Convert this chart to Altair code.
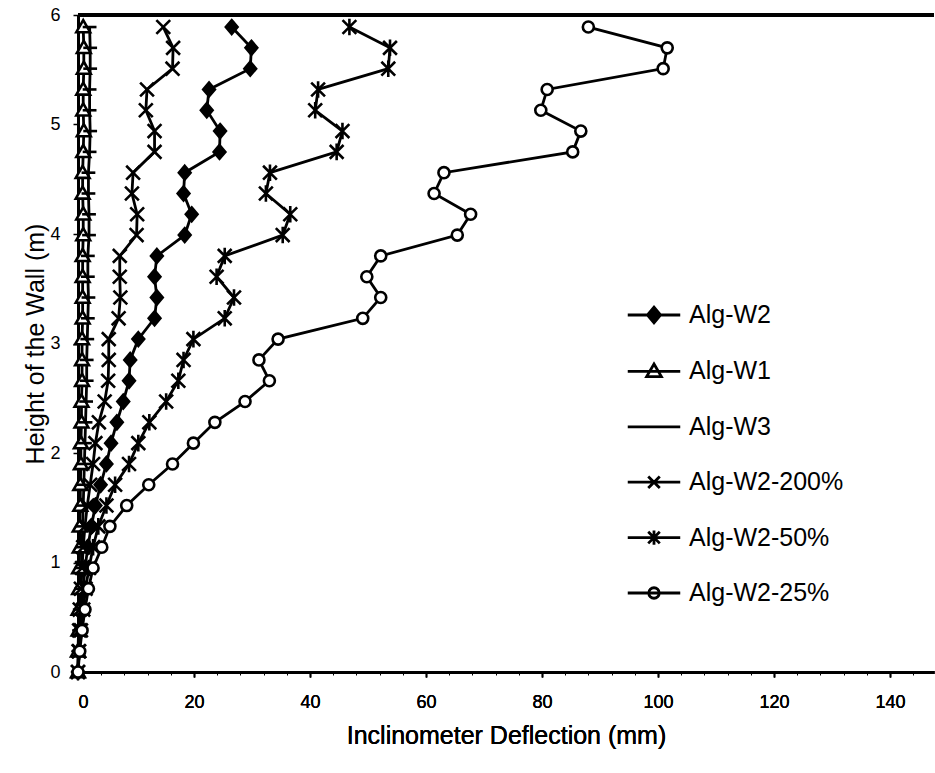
import altair as alt
import pandas as pd

# Heights (m), listed from the top of the wall downward
heights = [5.89, 5.70, 5.51, 5.32, 5.13, 4.94, 4.75, 4.56, 4.37, 4.18, 3.99,
           3.80, 3.61, 3.42, 3.23, 3.04, 2.85, 2.66, 2.47, 2.28, 2.09, 1.90,
           1.71, 1.52, 1.33, 1.14, 0.95, 0.76, 0.57, 0.38, 0.19, 0.00]

# Deflections (mm), same order as heights
alg_w2 = [26.5, 29.9, 29.7, 22.6, 22.2, 24.5, 24.4, 18.4, 18.2, 19.6, 18.4,
          13.6, 13.2, 13.6, 13.2, 10.4, 9.0, 8.8, 7.8, 6.7, 5.7, 4.9,
          3.9, 3.0, 2.3, 1.7, 1.2, 0.9, 0.6, 0.3, 0.1, 0.0]
alg_w1 = [0.9, 1.0, 1.0, 0.9, 0.9, 1.0, 0.9, 0.8, 0.8, 0.9, 0.9,
          0.8, 0.8, 0.8, 0.8, 0.7, 0.7, 0.7, 0.6, 0.6, 0.5, 0.5,
          0.4, 0.4, 0.3, 0.3, 0.2, 0.2, 0.1, 0.1, 0.0, 0.0]
alg_w3 = [2.0, 2.1, 2.1, 2.0, 2.0, 2.1, 2.0, 1.8, 1.8, 1.9, 1.9,
          1.7, 1.7, 1.8, 1.7, 1.6, 1.5, 1.5, 1.4, 1.3, 1.2, 1.1,
          1.0, 0.9, 0.8, 0.7, 0.6, 0.5, 0.3, 0.2, 0.1, 0.0]
alg_w2_200 = [14.7, 16.4, 16.3, 11.9, 11.7, 13.2, 13.2, 9.5, 9.3, 10.2, 10.1,
              7.2, 7.2, 7.3, 7.0, 5.3, 5.3, 5.2, 4.6, 3.6, 3.0, 2.6,
              2.1, 1.6, 1.2, 0.9, 0.7, 0.5, 0.3, 0.2, 0.1, 0.0]
alg_w2_50 = [46.8, 53.8, 53.5, 41.4, 40.9, 45.6, 44.6, 33.1, 32.4, 36.6, 35.3,
             25.3, 23.9, 26.9, 25.3, 19.9, 18.2, 17.3, 15.2, 12.3, 10.4, 8.8,
             6.4, 4.9, 3.5, 2.6, 1.9, 1.3, 0.9, 0.5, 0.2, 0.0]
alg_w2_25 = [88.0, 101.6, 100.9, 80.9, 79.8, 86.7, 85.3, 63.1, 61.4, 67.7, 65.4,
             52.2, 49.8, 52.2, 49.1, 34.5, 31.2, 33.0, 28.8, 23.6, 19.9, 16.3,
             12.2, 8.4, 5.5, 4.1, 2.6, 1.8, 1.2, 0.7, 0.3, 0.0]

series_names = ["Alg-W2", "Alg-W1", "Alg-W3", "Alg-W2-200%", "Alg-W2-50%", "Alg-W2-25%"]
series_values = [alg_w2, alg_w1, alg_w3, alg_w2_200, alg_w2_50, alg_w2_25]

x_ticks = [0, 20, 40, 60, 80, 100, 120, 140]
x_minor = [4, 8, 12, 16, 24, 28, 32, 36, 44, 48, 52, 56, 64, 68, 72, 76, 84, 88,
           92, 96, 104, 108, 112, 116, 124, 128, 132, 136, 144]
y_ticks = [0, 1, 2, 3, 4, 5, 6]

rows = []
for name, vals in zip(series_names, series_values):
    for h, v in zip(heights, vals):
        rows.append({"series": name, "h": h, "d": v})
df = pd.DataFrame(rows)

# marker shapes (normalized paths)
point_paths = [
    "M0,-1L0.85,0L0,1L-0.85,0Z",
    "M0,-1L1,0.75L-1,0.75Z",
    "M-1,0L1,0",
    "M-1,-1L1,1M-1,1L1,-1",
    "M-1,-1L1,1M-1,1L1,-1M0,-1.2L0,1.2",
    "M0.8,0A0.8,0.8,0,1,1,-0.8,0A0.8,0.8,0,1,1,0.8,0Z",
]
point_fills = ["black", "white", "white", "white", "white", "white"]

# legend symbols: line segment with the marker on it (diamond drawn solid by nested outlines)
legend_paths = [
    "M-1,0L1,0M0,-0.3L0.25,0L0,0.3L-0.25,0ZM0,-0.18L0.15,0L0,0.18L-0.15,0ZM0,-0.07L0.06,0L0,0.07L-0.06,0Z",
    "M-1,0L1,0M0,-0.28L0.28,0.2L-0.28,0.2Z",
    "M-1,0L1,0M-0.2,0L0.2,0",
    "M-1,0L1,0M-0.22,-0.22L0.22,0.22M-0.22,0.22L0.22,-0.22",
    "M-1,0L1,0M-0.22,-0.22L0.22,0.22M-0.22,0.22L0.22,-0.22M0,-0.27L0,0.27",
    "M-1,0L1,0M0.2,0A0.2,0.2,0,1,1,-0.2,0A0.2,0.2,0,1,1,0.2,0Z",
]

xscale = alt.Scale(domain=[0, 147.6], nice=False, zero=False)
yscale = alt.Scale(domain=[0, 6], nice=False, zero=False)

x_axis = alt.Axis(values=x_ticks, tickSize=5, tickWidth=1.5, tickColor="black",
                  domainWidth=3, domainColor="black", grid=False,
                  labelFontSize=18, labelColor="black", labelPadding=16,
                  title="Inclinometer Deflection (mm)", titleFontSize=25,
                  titleFontWeight="normal", titleColor="black", titlePadding=12,
                  orient="bottom")
y_axis = alt.Axis(values=y_ticks, tickSize=5, tickWidth=1.5, tickColor="black",
                  domainWidth=3, domainColor="black", grid=False,
                  labelFontSize=18, labelColor="black", labelPadding=13,
                  title="Height of the Wall (m)", titleFontSize=25,
                  titleFontWeight="normal", titleColor="black", titlePadding=1)

base = alt.Chart(df)

top_rule = base.mark_rule(color="black", strokeWidth=3).encode(
    y=alt.datum(6, scale=yscale, axis=y_axis)
)

lines = base.mark_line(color="black", strokeWidth=2.8).encode(
    x=alt.X("d:Q", scale=xscale, axis=x_axis),
    y=alt.Y("h:Q", scale=yscale, axis=y_axis),
    detail="series:N",
    order=alt.Order("h:Q"),
)

points = base.mark_point(stroke="black", strokeWidth=2.6, size=190, opacity=1).encode(
    x=alt.X("d:Q", scale=xscale, axis=x_axis),
    y=alt.Y("h:Q", scale=yscale, axis=y_axis),
    shape=alt.Shape("series:N", scale=alt.Scale(domain=series_names, range=point_paths), legend=None),
    fill=alt.Fill("series:N", scale=alt.Scale(domain=series_names, range=point_fills), legend=None),
)

leg = alt.Legend(title=None, orient="none", legendX=548, legendY=272,
                 symbolSize=2756, symbolStrokeWidth=2.8, symbolStrokeColor="black",
                 labelFontSize=25, labelColor="black", labelOffset=7, labelLimit=400,
                 rowPadding=14.4, padding=0)

legend_layer = base.mark_point(filled=False, color="black", stroke="black",
                               strokeWidth=2.8, opacity=1).encode(
    x=alt.X("d:Q", scale=xscale, axis=x_axis),
    y=alt.Y("h:Q", scale=yscale, axis=y_axis),
    shape=alt.Shape("series:N", scale=alt.Scale(domain=series_names, range=legend_paths), legend=leg),
).transform_filter("false")

minor = base.mark_point(opacity=0).encode(
    x=alt.X("d:Q", scale=xscale,
            axis=alt.Axis(values=x_minor, tickSize=3, tickWidth=1, tickColor="black",
                          labels=False, domain=False, grid=False, title=None, orient="bottom")),
    y=alt.Y("h:Q", scale=yscale, axis=y_axis),
)

chart = alt.layer(top_rule, lines, points, legend_layer, minor).resolve_scale(
    shape="independent", fill="independent"
).resolve_axis(x="independent").properties(
    width=856, height=657,
    padding={"left": 78, "top": 15, "right": 1, "bottom": 101},
    autosize=alt.AutoSizeParams(type="none"),
).configure(font="Liberation Sans").configure_view(stroke=None)

chart.save("out.html", embed_options={"renderer": "svg", "actions": False})
